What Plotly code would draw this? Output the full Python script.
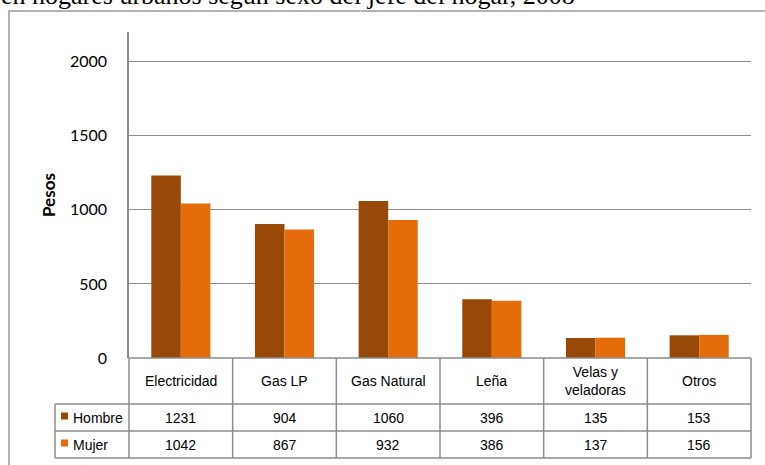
import plotly.graph_objects as go

categories = ["Electricidad", "Gas LP", "Gas Natural", "Leña", "Velas y veladoras", "Otros"]
category_labels = ["Electricidad", "Gas LP", "Gas Natural", "Leña", "Velas y<br>veladoras", "Otros"]
hombre = [1231, 904, 1060, 396, 135, 153]
mujer = [1042, 867, 932, 386, 137, 156]
series_names = ["Hombre", "Mujer"]
series_colors = ["#984807", "#E46C0A"]
title_text = "en hogares urbanos según sexo del jefe del hogar, 2008"
y_title = "Pesos"

W, H = 765, 465
L, R, T, B = 129, 14, 32, 107
pw, ph = W - L - R, H - T - B

def px_x(p):
    return (p - L) / pw

def px_y(p):
    return (H - B - p) / ph

fig = go.Figure()
for name, vals, col in zip(series_names, [hombre, mujer], series_colors):
    fig.add_trace(go.Bar(x=categories, y=vals, name=name, marker=dict(color=col, line=dict(width=0))))

grid = "#8c8c8c"
fig.update_layout(
    width=W, height=H,
    margin=dict(l=L, r=R, t=T, b=B),
    paper_bgcolor="white", plot_bgcolor="white",
    barmode="group", bargap=0.43, bargroupgap=0,
    showlegend=False,
    xaxis=dict(showticklabels=False, showgrid=False, zeroline=False, showline=False, ticks=""),
    yaxis=dict(range=[0, 2200], tickvals=[0, 500, 1000, 1500, 2000], showgrid=True,
               gridcolor=grid, gridwidth=1.3, zeroline=False, showline=True,
               linecolor=grid, linewidth=1.5, ticks="", ticklabelstandoff=17,
               tickfont=dict(family="Lato", size=16, color="black")),
)

shapes = []
ann = []
n = len(categories)
lc = "#8c8c8c"
y0 = 0
y_head = px_y(404)
y_h = px_y(431)
y_m = px_y(458)
x_leg = px_x(55)

# horizontal lines
shapes.append(dict(type="line", xref="paper", yref="paper", x0=0, x1=1, y0=y0, y1=y0, line=dict(color=lc, width=1.5)))
for yy in (y_head, y_h, y_m):
    shapes.append(dict(type="line", xref="paper", yref="paper", x0=x_leg, x1=1, y0=yy, y1=yy, line=dict(color=lc, width=1.5)))
# vertical lines
for i in range(n + 1):
    xx = i / n
    shapes.append(dict(type="line", xref="paper", yref="paper", x0=xx, x1=xx, y0=y0, y1=y_m, line=dict(color=lc, width=1.5)))
shapes.append(dict(type="line", xref="paper", yref="paper", x0=x_leg, x1=x_leg, y0=y_head, y1=y_m, line=dict(color=lc, width=1.5)))

# outer frame
shapes.append(dict(type="rect", xref="paper", yref="paper", x0=px_x(9), x1=px_x(820), y0=px_y(11), y1=px_y(520),
                   line=dict(color="#999999", width=1.5), fillcolor="rgba(0,0,0,0)"))

tf = dict(family="Liberation Sans, Arial", size=14, color="black")
for i, lab in enumerate(category_labels):
    xc = (i + 0.5) / n
    ann.append(dict(xref="paper", yref="paper", x=xc, y=(y0 + y_head) / 2, text=lab, showarrow=False,
                    font=tf, xanchor="center", yanchor="middle"))
    ann.append(dict(xref="paper", yref="paper", x=xc, y=(y_head + y_h) / 2, text=str(hombre[i]), showarrow=False,
                    font=tf, xanchor="center", yanchor="middle"))
    ann.append(dict(xref="paper", yref="paper", x=xc, y=(y_h + y_m) / 2, text=str(mujer[i]), showarrow=False,
                    font=tf, xanchor="center", yanchor="middle"))

for k, (name, col) in enumerate(zip(series_names, series_colors)):
    ytop = y_head if k == 0 else y_h
    ybot = y_h if k == 0 else y_m
    ym = (ytop + ybot) / 2
    shapes.append(dict(type="rect", xref="paper", yref="paper", x0=px_x(61), x1=px_x(68),
                       y0=ym + 3.5 / ph + 1.5 / ph, y1=ym - 3.5 / ph + 1.5 / ph, fillcolor=col, line=dict(width=0)))
    ann.append(dict(xref="paper", yref="paper", x=px_x(71), y=ym, text=name, showarrow=False,
                    font=tf, xanchor="left", yanchor="middle"))

ann.append(dict(xref="paper", yref="paper", x=px_x(48), y=0.5, text="<b>" + y_title + "</b>", textangle=-90,
                showarrow=False, font=dict(family="Lato", size=17, color="black"), xanchor="center", yanchor="middle"))
ann.append(dict(xref="paper", yref="paper", x=px_x(-1), y=px_y(12), text=title_text, showarrow=False,
                font=dict(family="Liberation Serif, Times New Roman", size=26, color="black"),
                xanchor="left", yanchor="bottom"))

fig.update_layout(shapes=shapes, annotations=ann)
fig.write_html("out.html", config={"displayModeBar": False},
               post_script="document.body.style.margin='0';document.body.style.padding='0';")
